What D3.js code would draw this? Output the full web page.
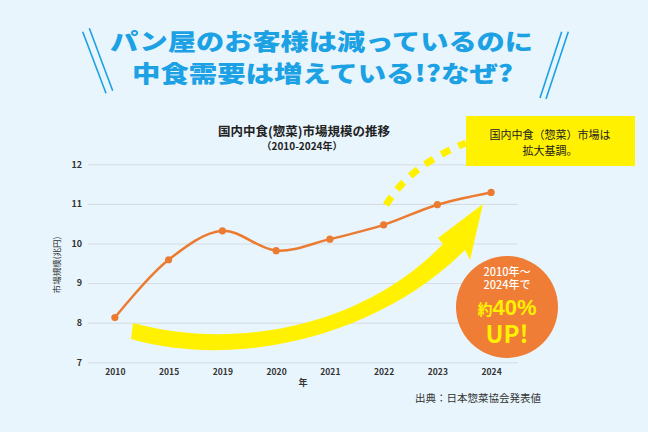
<!DOCTYPE html>
<html>
<head>
<meta charset="utf-8">
<script src="https://cdn.jsdelivr.net/npm/d3@7"></script>
<style>
  html, body { margin: 0; padding: 0; background: #e8f5fd; }
  svg { display: block; }
  text { font-family: "Noto Sans CJK JP", "Noto Sans", sans-serif; }
</style>
</head>
<body>
<svg id="chart" width="648" height="432"></svg>
<script>
  // data
  var years = ['2010', '2015', '2019', '2020', '2021', '2022', '2023', '2024'];
  var marketSize = [8.13, 9.59, 10.32, 9.82, 10.11, 10.47, 10.98, 11.29];
  var yTicks = [7, 8, 9, 10, 11, 12];
  var headline = ['パン屋のお客様は減っているのに', '中食需要は増えている!?なぜ?'];
  var noteLines = ['国内中食（惣菜）市場は', '拡大基調。'];
  var badgeLines = ['2010年～', '2024年で'];

  var svg = d3.select('#chart');
  var blue = '#1ba1e4', yellow = '#fff100', orange = '#ec7b32';

  svg.append('rect').attr('width', 648).attr('height', 432).attr('fill', '#e8f5fd');

  // headline with double slashes
  var head = svg.append('g');
  [[82.7, 31.7, 106, 93.3], [89.3, 28.3, 112.7, 90.7], [561.7, 31.7, 540, 98], [568.3, 31.7, 546, 99]].forEach(function(l) {
    head.append('line').attr('x1', l[0]).attr('y1', l[1]).attr('x2', l[2]).attr('y2', l[3])
      .attr('stroke', blue).attr('stroke-width', 1.6);
  });
  head.append('text').attr('x', 110).attr('y', 50).attr('textLength', 423).attr('lengthAdjust', 'spacingAndGlyphs')
    .attr('font-size', 23).attr('font-weight', 900).attr('fill', blue).text(headline[0]);
  head.append('text').attr('x', 132).attr('y', 82).attr('textLength', 381).attr('lengthAdjust', 'spacingAndGlyphs')
    .attr('font-size', 23).attr('font-weight', 900).attr('fill', blue).text(headline[1]);

  // chart titles
  svg.append('text').attr('x', 304).attr('y', 136).attr('text-anchor', 'middle')
    .attr('font-size', 12.5).attr('font-weight', 700).attr('fill', '#222').text('国内中食(惣菜)市場規模の推移');
  svg.append('text').attr('x', 302).attr('y', 150).attr('text-anchor', 'middle')
    .attr('font-size', 10).attr('font-weight', 700).attr('fill', '#222').text('（2010-2024年）');

  var x = d3.scalePoint().domain(years).range([88, 518]).padding(0.5);
  var y = d3.scaleLinear().domain([7, 12]).range([362.3, 164.3]);

  // gridlines + y labels
  var yAxis = svg.append('g').attr('transform', 'translate(88,0)')
    .call(d3.axisLeft(y).tickValues(yTicks).tickSize(-430).tickPadding(6).tickFormat(d3.format('d')));
  yAxis.select('.domain').remove();
  yAxis.selectAll('line').attr('stroke', '#d6dbdf').attr('stroke-width', 1);
  yAxis.selectAll('text').attr('font-size', 9).attr('font-weight', 700).attr('fill', '#333')
    .attr('font-family', '"Liberation Sans", sans-serif');

  var xAxis = svg.append('g').attr('transform', 'translate(0,362.3)')
    .call(d3.axisBottom(x).tickSize(0).tickPadding(7));
  xAxis.select('.domain').remove();
  xAxis.selectAll('text').attr('font-size', 8.5).attr('font-weight', 700).attr('fill', '#333')
    .attr('font-family', '"Liberation Sans", sans-serif');

  svg.append('text').attr('x', 303).attr('y', 386).attr('text-anchor', 'middle')
    .attr('font-size', 9).attr('font-weight', 700).attr('fill', '#333').text('年');
  svg.append('text').attr('transform', 'translate(60,265) rotate(-90)').attr('text-anchor', 'middle')
    .attr('font-size', 8.5).attr('fill', '#333').text('市場規模(兆円)');

  // yellow arrow
  svg.append('path')
    .attr('d', 'M133,323 C230,350 360,330 443,244 L438,238 L483,204 L470,260 L465,250 C380,335 240,370 131,339 Z')
    .attr('fill', yellow);

  // dashed arc to note box
  svg.append('path').attr('d', 'M386,205 Q410,165 466,143')
    .attr('fill', 'none').attr('stroke', yellow).attr('stroke-width', 7).attr('stroke-dasharray', '10,9');

  // note box
  svg.append('rect').attr('x', 466).attr('y', 116).attr('width', 169).attr('height', 50).attr('fill', yellow);
  noteLines.forEach(function(t, i) {
    svg.append('text').attr('x', 550).attr('y', 139 + i * 16).attr('text-anchor', 'middle')
      .attr('font-size', 11).attr('fill', '#222').text(t);
  });

  // line series
  var line = d3.line()
    .x(function(d, i) { return x(years[i]); })
    .y(function(d) { return y(d); })
    .curve(d3.curveCatmullRom.alpha(0.5));
  svg.append('path').datum(marketSize).attr('d', line)
    .attr('fill', 'none').attr('stroke', orange).attr('stroke-width', 2.5);
  svg.append('g').selectAll('circle').data(marketSize).enter().append('circle')
    .attr('cx', function(d, i) { return x(years[i]); })
    .attr('cy', function(d) { return y(d); })
    .attr('r', 3.6).attr('fill', orange);

  // badge
  var badge = svg.append('g');
  badge.append('circle').attr('cx', 507).attr('cy', 307).attr('r', 51).attr('fill', '#ef7d35');
  badgeLines.forEach(function(t, i) {
    badge.append('text').attr('x', 507).attr('y', 275.5 + i * 13).attr('text-anchor', 'middle')
      .attr('font-size', 11).attr('font-weight', 500).attr('fill', '#fff').text(t);
  });
  var up = badge.append('text').attr('x', 507).attr('y', 315).attr('text-anchor', 'middle')
    .attr('font-weight', 700).attr('fill', yellow);
  up.append('tspan').attr('font-size', 15).text('約');
  up.append('tspan').attr('font-size', 22).attr('font-family', '"Liberation Sans", sans-serif').text('40%');
  badge.append('text').attr('x', 507).attr('y', 343).attr('text-anchor', 'middle')
    .attr('font-size', 24).attr('font-weight', 700).attr('fill', yellow)
    .attr('font-family', '"Liberation Sans", sans-serif').text('UP!');

  // source
  svg.append('text').attr('x', 415).attr('y', 402).attr('font-size', 10.5).attr('fill', '#333')
    .text('出典：日本惣菜協会発表値');
</script>
</body>
</html>
